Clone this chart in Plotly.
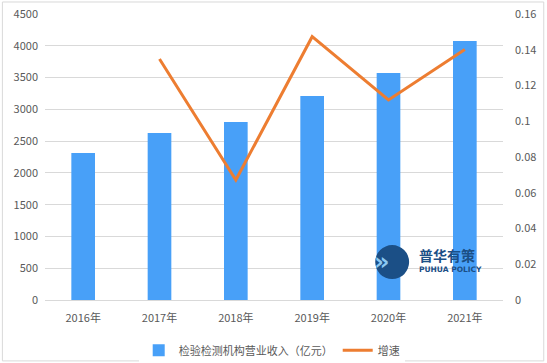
import plotly.graph_objects as go

years = ["2016年", "2017年", "2018年", "2019年", "2020年", "2021年"]
revenue = [2313, 2627, 2800, 3210, 3571, 4075]
growth_years = ["2017年", "2018年", "2019年", "2020年", "2021年"]
growth = [0.1348, 0.0671, 0.1473, 0.1119, 0.1402]

left_ticks = [0, 500, 1000, 1500, 2000, 2500, 3000, 3500, 4000, 4500]
right_ticks = [0, 0.02, 0.04, 0.06, 0.08, 0.1, 0.12, 0.14, 0.16]
right_labels = ["0", "0.02", "0.04", "0.06", "0.08", "0.1", "0.12", "0.14", "0.16"]

font = "Noto Sans CJK SC, Noto Sans, sans-serif"
gray = "#595959"

fig = go.Figure()
fig.add_trace(go.Bar(x=years, y=revenue, name="检验检测机构营业收入（亿元）",
                     marker=dict(color="#48A0F8", line=dict(width=0)), width=0.31))
fig.add_trace(go.Scatter(x=growth_years, y=growth, name="增速", mode="lines",
                         line=dict(color="#ED7D31", width=3), yaxis="y2"))

fig.update_layout(
    width=547, height=363,
    margin=dict(l=45, r=44, t=14, b=63, autoexpand=False),
    paper_bgcolor="white", plot_bgcolor="white",
    font=dict(family=font, size=11, color=gray),
    showlegend=True,
    legend=dict(orientation="h", x=0.495, xanchor="center", y=-0.125, yanchor="top",
                font=dict(size=11, color=gray), itemwidth=30, traceorder="normal"),
    xaxis=dict(showgrid=False, showline=True, linecolor="#D9D9D9", ticks="",
               ticklabelstandoff=8, tickfont=dict(size=11, color=gray)),
    yaxis=dict(range=[0, 4500], tickvals=left_ticks, showgrid=True, gridcolor="#D9D9D9",
               zeroline=False, showline=False, ticks="", ticklabelstandoff=6,
               tickfont=dict(size=11, color=gray)),
    yaxis2=dict(range=[0, 0.16], tickvals=right_ticks, ticktext=right_labels, overlaying="y",
                side="right", showgrid=False, zeroline=False, showline=False, ticks="",
                ticklabelstandoff=11, tickfont=dict(size=11, color=gray)),
    bargap=0.69,
)

# chart border
fig.add_shape(type="rect", xref="paper", yref="paper", x0=-0.093, x1=1.089, y0=-0.213, y1=1.042,
              line=dict(color="#D9D9D9", width=1), fillcolor="rgba(0,0,0,0)", layer="below")

# watermark logo
fig.add_shape(type="circle", xref="paper", yref="paper", x0=0.721, x1=0.795, y0=0.073, y1=0.192,
              fillcolor="#1B4F86", line=dict(width=0))
fig.add_annotation(xref="paper", yref="paper", x=0.758, y=0.1325, yanchor="middle", text="<b>»</b>",
                   showarrow=False, font=dict(size=24, color="#8CC8F2", family="DejaVu Sans"))
fig.add_annotation(xref="paper", yref="paper", x=0.812, y=0.157, xanchor="left", yanchor="middle",
                   text="<b>普华有策</b>", showarrow=False, font=dict(size=14, color="#1B4F86", family=font))
fig.add_annotation(xref="paper", yref="paper", x=0.812, y=0.108, xanchor="left", yanchor="middle",
                   text="<b>PUHUA POLICY</b>", showarrow=False,
                   font=dict(size=7.5, color="#1B4F86", family="DejaVu Sans"))

fig.write_html("out.html", config={"displayModeBar": False},
               post_script="document.body.style.margin='0';")
